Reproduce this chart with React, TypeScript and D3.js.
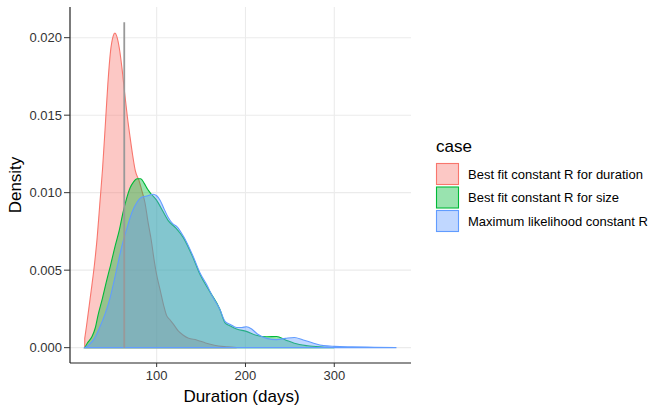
import * as d3 from "d3";
import React from "react";

// density estimates, as [duration in days, density]
const durationFit: [number, number][] = [
  [19, 0.0006], [21, 0.0014], [24, 0.0027], [27, 0.004], [30, 0.0054],
  [33, 0.0071], [36, 0.0093], [39, 0.0115], [42, 0.0142], [45, 0.017],
  [48, 0.0191], [51, 0.0201], [53, 0.0203], [55, 0.0201], [58, 0.0193],
  [61, 0.018], [64, 0.0164], [67, 0.0149], [70, 0.0136], [73, 0.0124],
  [76, 0.0114], [80, 0.0108], [83, 0.0102], [87, 0.0093], [90, 0.0082],
  [94, 0.0069], [97, 0.0057], [100, 0.0047], [104, 0.0037], [108, 0.0027],
  [111, 0.0021], [115, 0.0018], [119, 0.0015], [124, 0.0011], [130, 0.0008],
  [136, 0.0006], [145, 0.0005], [155, 0.0003], [165, 0.00015], [180, 0.00005],
  [190, 0],
];

const sizeFit: [number, number][] = [
  [19, 0], [22, 0.0003], [27, 0.0007], [31, 0.0013], [34, 0.0021],
  [39, 0.0032], [44, 0.0044], [48, 0.0053], [53, 0.0065], [58, 0.0076],
  [62, 0.0087], [66, 0.0096], [70, 0.0103], [74, 0.0107], [78, 0.0109],
  [82, 0.0109], [86, 0.0106], [90, 0.0102], [94, 0.0099], [100, 0.0095],
  [107, 0.0088], [113, 0.0082], [122, 0.0077], [130, 0.0071], [141, 0.0058],
  [149, 0.0047], [160, 0.0036], [171, 0.0025], [177, 0.0016], [183, 0.0014],
  [190, 0.0012], [201, 0.00105], [212, 0.0008], [224, 0.0007], [235, 0.00072],
  [245, 0.0005], [255, 0.00028], [270, 0.00012], [287, 0.00004], [300, 0],
];

const maxLikelihood: [number, number][] = [
  [19, 0], [24, 0.0002], [30, 0.0006], [35, 0.0012], [42, 0.0022],
  [47, 0.0031], [52, 0.0043], [57, 0.0056], [61, 0.0066], [66, 0.0076],
  [72, 0.0087], [78, 0.0094], [83, 0.0097], [90, 0.0098], [96, 0.0099],
  [100, 0.0098], [104, 0.0095], [108, 0.009], [113, 0.0084], [118, 0.008],
  [123, 0.0078], [130, 0.0072], [141, 0.0059], [149, 0.0048], [156, 0.0041],
  [163, 0.0033], [171, 0.0025], [177, 0.0017], [183, 0.0015], [190, 0.0013],
  [196, 0.0013], [201, 0.00135], [207, 0.0012], [213, 0.0009], [224, 0.0006],
  [235, 0.00052], [245, 0.0006], [255, 0.00066], [265, 0.0005], [276, 0.0003],
  [288, 0.00013], [300, 0.00008], [320, 0.00005], [345, 0.00003], [370, 0],
];

const caseLabels = [
  "Best fit constant R for duration",
  "Best fit constant R for size",
  "Maximum likelihood constant R",
];
const caseColors = ["#F8766D", "#00BA38", "#619CFF"];
const seriesData = [durationFit, sizeFit, maxLikelihood];

const xTicks = [100, 200, 300];
const yTicks = [0, 0.005, 0.01, 0.015, 0.02];
const markerDay = 63.5;
const markerTop = 0.021;

const font = "'Liberation Sans', Arial, sans-serif";

export default function App() {
  const width = 649;
  const height = 411;
  const panel = { left: 70, right: 411, top: 7, bottom: 363 };

  const x = d3.scaleLinear().domain([2.4, 386.4]).range([panel.left, panel.right]);
  const y = d3.scaleLinear().domain([-0.00099, 0.02198]).range([panel.bottom, panel.top]);

  const area = d3
    .area<[number, number]>()
    .x((d) => x(d[0]))
    .y0(y(0))
    .y1((d) => y(d[1]))
    .curve(d3.curveMonotoneX);

  return (
    <svg
      width={width}
      height={height}
      style={{ position: "absolute", left: 0, top: 0, background: "#fff" }}
      fontFamily={font}
    >
      {/* grid */}
      {yTicks.map((t) => (
        <line key={"gy" + t} x1={panel.left} x2={panel.right} y1={y(t)} y2={y(t)} stroke="#ebebeb" strokeWidth={1.1} />
      ))}
      {xTicks.map((t) => (
        <line key={"gx" + t} x1={x(t)} x2={x(t)} y1={panel.top} y2={panel.bottom} stroke="#ebebeb" strokeWidth={1.1} />
      ))}

      {/* densities */}
      {seriesData.map((s, i) => (
        <path
          key={caseLabels[i]}
          d={(area(s) || "") + "Z"}
          fill={caseColors[i]}
          fillOpacity={0.4}
          stroke={caseColors[i]}
          strokeWidth={1.1}
        />
      ))}

      {/* marker line */}
      <line x1={x(markerDay)} x2={x(markerDay)} y1={y(0)} y2={y(markerTop)} stroke="#999" strokeWidth={1.8} />

      {/* axes */}
      <line x1={panel.left} x2={panel.left} y1={panel.top} y2={panel.bottom} stroke="#222" strokeWidth={1.2} />
      <line x1={panel.left} x2={panel.right} y1={panel.bottom} y2={panel.bottom} stroke="#222" strokeWidth={1.2} />
      {yTicks.map((t) => (
        <g key={"ty" + t}>
          <line x1={panel.left - 6} x2={panel.left} y1={y(t)} y2={y(t)} stroke="#333" />
          <text x={panel.left - 8} y={y(t)} dy="0.35em" textAnchor="end" fontSize={13} fill="#333">
            {d3.format(".3f")(t)}
          </text>
        </g>
      ))}
      {xTicks.map((t) => (
        <g key={"tx" + t}>
          <line x1={x(t)} x2={x(t)} y1={panel.bottom} y2={panel.bottom + 4} stroke="#333" />
          <text x={x(t)} y={panel.bottom + 12.5} dy="0.35em" textAnchor="middle" fontSize={13} fill="#333">
            {t}
          </text>
        </g>
      ))}
      <text x={(panel.left + panel.right) / 2 + 1} y={396} dy="0.35em" textAnchor="middle" fontSize={17} fill="#000">
        Duration (days)
      </text>
      <text transform={`translate(15,${(panel.top + panel.bottom) / 2}) rotate(-90)`} dy="0.35em" textAnchor="middle" fontSize={17} fill="#000">
        Density
      </text>

      {/* legend */}
      <text x={436} y={146} dy="0.35em" fontSize={17} fill="#000">case</text>
      {caseLabels.map((label, i) => (
        <g key={"lg" + label} transform={`translate(436,${163 + i * 23.5})`}>
          <rect x={0.5} y={0.5} width={22} height={21} fill={caseColors[i]} fillOpacity={0.4} stroke={caseColors[i]} strokeWidth={1.1} />
          <text x={32} y={11} dy="0.35em" fontSize={13} fill="#000">{label}</text>
        </g>
      ))}
    </svg>
  );
}
